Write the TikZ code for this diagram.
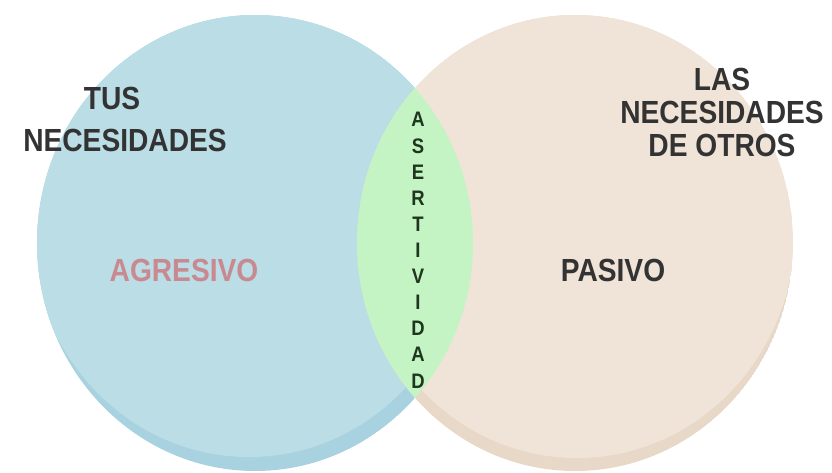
\documentclass[tikz,border=0pt]{standalone}
\usepackage{fontspec}
\setmainfont{Liberation Sans}
\newfontfamily\narrowfont{Liberation Sans}[FakeStretch=0.88]
\usepackage{xcolor}
\definecolor{tuscol}{HTML}{BADDE6}
\definecolor{tusdark}{HTML}{A9D2E0}
\definecolor{otroscol}{HTML}{F0E4D8}
\definecolor{otrosdark}{HTML}{E8D8C7}
\definecolor{asercol}{HTML}{C4F3C4}
\definecolor{textcol}{HTML}{333333}
\definecolor{agrecol}{HTML}{C98990}
\definecolor{lettercol}{HTML}{1E361E}
\tikzstyle{bigtext}=[font=\narrowfont\bfseries\fontsize{32}{36}\selectfont,textcol,inner sep=0,anchor=base]
\tikzstyle{lettertext}=[font=\narrowfont\bfseries\fontsize{21}{24}\selectfont,lettercol,inner sep=0,anchor=base]
\tikzset{
  disc/.style={x radius=218pt,y radius=228pt}}

\begin{document}
\begin{tikzpicture}[x=1pt,y=-1pt]
  \def\xL{255}
  \def\xR{575}
  \def\yc{243}
  \useasboundingbox (0,0) rectangle (832,473);

  % LEFT CIRCLE
  \begin{scope}
    \clip (\xL,\yc) ellipse [disc];
    \fill[tusdark] (\xL,\yc) ellipse [disc];
    \fill[tuscol] (\xL-6,\yc-14) ellipse [disc];
  \end{scope}

  % RIGHT CIRCLE
  \begin{scope}
    \clip (\xR,\yc) ellipse [disc];
    \fill[otrosdark] (\xR,\yc) ellipse [disc];
    \fill[otroscol] (\xR+2,\yc-13) ellipse [disc];
  \end{scope}

  % OVERLAP
  \begin{scope}
    \clip (\xL,\yc) ellipse [disc];
    \fill[asercol] (\xR,\yc) ellipse [disc];
  \end{scope}

  % TEXTS
  \node[bigtext] (tus) at (112,110) {TUS};
  \node[bigtext] (tusnec) at (125,152) {NECESIDADES};
  \node[bigtext] (las) at (722,91) {LAS};
  \node[bigtext] (lasnec) at (722,124) {NECESIDADES};
  \node[bigtext] (otros) at (722,157) {DE OTROS};
  \node[bigtext,agrecol] (agresivo) at (184,281) {AGRESIVO};
  \node[bigtext] (pasivo) at (613,281) {PASIVO};

  % ASERTIVIDAD
  \foreach \l [count=\i] in {A,S,E,R,T,I,V,I,D,A,D}{
    \node[lettertext] (l\i) at (418,{127+(\i-1)*26.1}) {\l};
  }

\end{tikzpicture}
\end{document}
